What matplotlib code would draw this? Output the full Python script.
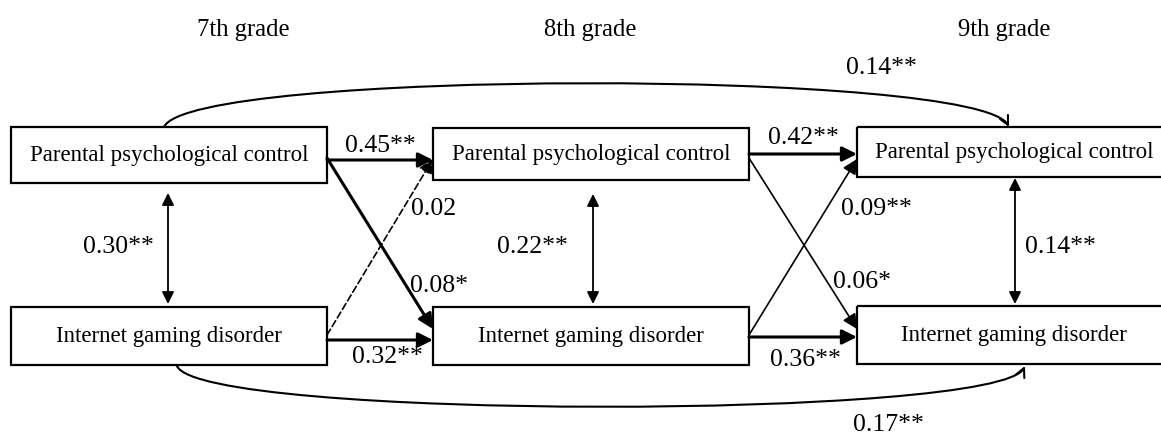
import matplotlib
matplotlib.use("Agg")
import matplotlib.pyplot as plt
from matplotlib.patches import Rectangle, FancyArrowPatch
from matplotlib.path import Path

plt.rcParams['font.family'] = ['Liberation Serif', 'DejaVu Serif']

grades = ["7th grade", "8th grade", "9th grade"]
constructs = ["Parental psychological control", "Internet gaming disorder"]
# stability paths (PPC->PPC, IGD->IGD) for 7->8, 8->9
stab_ppc = ["0.45**", "0.42**"]
stab_igd = ["0.32**", "0.36**"]
# cross-lagged paths PPC->IGD and IGD->PPC for 7->8, 8->9
cross_ppc_igd = ["0.08*", "0.06*"]
cross_igd_ppc = ["0.02", "0.09**"]
cross_sig = [False, True]  # IGD->PPC significance (dashed if not)
# within-time correlations
corrs = ["0.30**", "0.22**", "0.14**"]
# long-range paths 7->9
long_ppc = "0.14**"
long_igd = "0.17**"

W, H = 1161, 435
fig = plt.figure(figsize=(W / 100, H / 100), dpi=100)
ax = fig.add_axes([0, 0, 1, 1])
ax.set_xlim(0, W)
ax.set_ylim(H, 0)
ax.axis('off')

# layout
box_x = [(11, 327), (433, 749), (857, 1171)]
top_y = [(128, 184), (129, 181), (128, 178)]
bot_y = [(308, 366), (308, 366), (307, 365)]
grade_x = [243, 590, 1004]
corr_x = [168, 593, 1015]
FS_BOX = 16.5
FS_NUM = 18.5
FS_GRADE = 17.7

for i, (x0, x1) in enumerate(box_x):
    for (y0, y1), name in zip([top_y[i], bot_y[i]], constructs):
        ax.add_patch(Rectangle((x0, y0), x1 - x0, y1 - y0, fill=False,
                               lw=1.6, ec='black'))
        ax.text((x0 + x1) / 2, (y0 + y1) / 2, name, ha='center',
                va='center', fontsize=FS_BOX)
    ax.text(grade_x[i], 30, grades[i], ha='center', va='center',
            fontsize=FS_GRADE)


def arrow(p0, p1, lw, ls='-', both=False, ms=22):
    st = '<|-|>' if both else '-|>'
    a = FancyArrowPatch(p0, p1, arrowstyle=st, mutation_scale=ms, lw=lw,
                        color='black', linestyle=ls, shrinkA=0, shrinkB=0)
    ax.add_patch(a)


thick, thin = 2.2, 1.2
stab_top_y = [161, 155]
stab_bot_y = [341, 338]
for k in range(2):
    xl = box_x[k][1]
    xr = box_x[k + 1][0]
    arrow((xl, stab_top_y[k]), (xr, stab_top_y[k]), thick)
    arrow((xl, stab_bot_y[k]), (xr, stab_bot_y[k]), thick)
    # PPC -> IGD
    arrow((xl, 159), (xr, 330), thick if k == 0 else thin)
    # IGD -> PPC
    arrow((xl, 336), (xr, 160), thin, ls='-' if cross_sig[k] else (0, (4, 2)))

# path labels
ax.text(380, 146, stab_ppc[0], ha='center', va='center', fontsize=FS_NUM)
ax.text(803, 138, stab_ppc[1], ha='center', va='center', fontsize=FS_NUM)
ax.text(387, 357, stab_igd[0], ha='center', va='center', fontsize=FS_NUM)
ax.text(805, 360, stab_igd[1], ha='center', va='center', fontsize=FS_NUM)
ax.text(434, 209, cross_igd_ppc[0], ha='center', va='center', fontsize=FS_NUM)
ax.text(876, 209, cross_igd_ppc[1], ha='center', va='center', fontsize=FS_NUM)
ax.text(439, 286, cross_ppc_igd[0], ha='center', va='center', fontsize=FS_NUM)
ax.text(862, 282, cross_ppc_igd[1], ha='center', va='center', fontsize=FS_NUM)

# correlations
corr_lab_x = [118, 532, 1060]
corr_y0 = [194, 195, 179]
for i in range(3):
    arrow((corr_x[i], corr_y0[i]), (corr_x[i], 305), 1.3, both=True, ms=18)
    ax.text(corr_lab_x[i], 247, corrs[i], ha='center', va='center',
            fontsize=FS_NUM)

# long-range curves
p_top = Path([(164, 128), (190, 70), (980, 70), (1009, 128)],
             [Path.MOVETO, Path.CURVE4, Path.CURVE4, Path.CURVE4])
ax.add_patch(FancyArrowPatch(path=p_top, arrowstyle='->', mutation_scale=16,
                             lw=1.5, color='black'))
p_bot = Path([(177, 367), (200, 421), (1000, 421), (1025, 367)],
             [Path.MOVETO, Path.CURVE4, Path.CURVE4, Path.CURVE4])
ax.add_patch(FancyArrowPatch(path=p_bot, arrowstyle='->', mutation_scale=16,
                             lw=1.5, color='black'))
ax.text(881, 68, long_ppc, ha='center', va='center', fontsize=FS_NUM)
ax.text(888, 425, long_igd, ha='center', va='center', fontsize=FS_NUM)

fig.savefig("out.png", dpi=100)
